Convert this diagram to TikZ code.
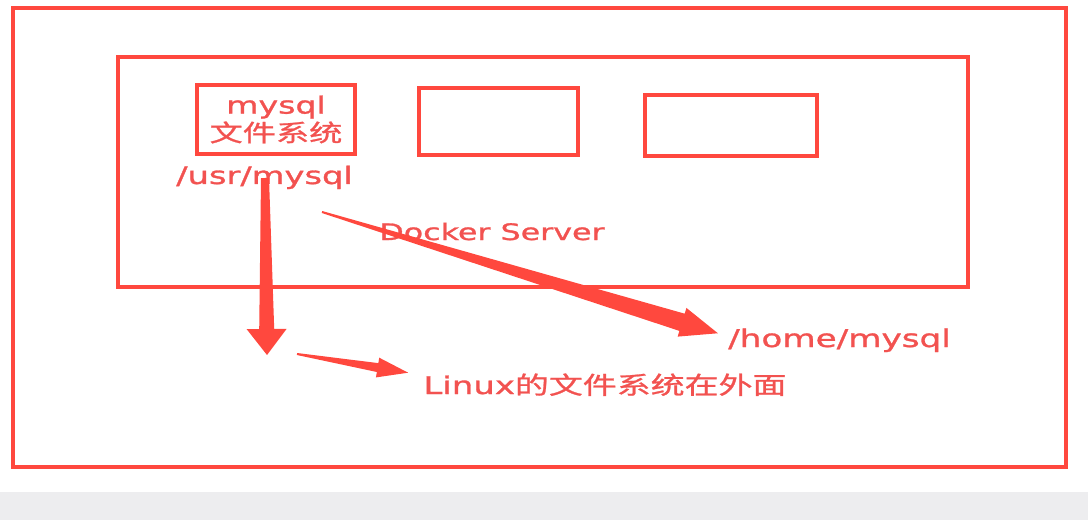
\documentclass[tikz,border=0pt]{standalone}
\usepackage{fontspec}
\setmainfont[FakeStretch=1.4, FakeBold=1.2]{DejaVu Sans}
\newfontfamily\cjk[FakeStretch=1.4, FakeBold=1]{Noto Sans CJK SC}
\usetikzlibrary{calc}

\definecolor{linered}{RGB}{255,72,62}
\definecolor{textred}{RGB}{242,82,80}
\definecolor{bargray}{RGB}{237,237,239}

% tapered arrow: #1 tail, #2 tip, #3 tail half width, #4 shaft half width, #5 head half width, #6 head length
\newcommand{\taperarrow}[6]{%
  \coordinate (hb) at ($(#2)!#6!(#1)$);
  \fill[linered] ($(#1)!#3!90:(#2)$) -- ($(hb)!#4!90:(#2)$) -- ($(hb)!#5!90:(#2)$) -- (#2)
    -- ($(hb)!#5!-90:(#2)$) -- ($(hb)!#4!-90:(#2)$) -- ($(#1)!#3!-90:(#2)$) -- cycle;
}

\begin{document}
\begin{tikzpicture}[x=0.02cm, y=-0.02cm,
        frame/.style={rectangle, draw=linered, line width=2.2pt, inner sep=0},
        container/.style={rectangle, draw=linered, line width=2pt, inner sep=0},
        label/.style={text=textred, inner sep=0, anchor=base}
    ]
        \useasboundingbox (0,0) rectangle (1088,520);
        \fill[bargray] (0,492) rectangle (1088,520);

        % host machine and docker server
        \node[frame, minimum width=21.06cm, minimum height=9.18cm] (host) at (539.5,237.5) {};
        \node[container, line width=1.9pt, minimum width=17cm, minimum height=4.6cm] (dockerserver) at (543,172) {};
        \node[label] (dockerlabel) at (492,240) {\fontsize{12.9pt}{15pt}\selectfont Docker Server};

        % containers
        \node[container, minimum width=3.16cm, minimum height=1.38cm, text=textred, align=center,
              font=\fontsize{13.5pt}{15.9pt}\selectfont] (mysqlbox) at (276,119.5) {mysql\\{\cjk 文件系统}};
        \node[container, minimum width=3.18cm, minimum height=1.34cm] (boxtwo) at (498.5,121.5) {};
        \node[container, minimum width=3.44cm, minimum height=1.22cm] (boxthree) at (731,125.5) {};

        % paths
        \node[label] (usrpath) at (264.5,184) {\fontsize{13.7pt}{16pt}\selectfont /usr/mysql};
        \node[label] (homepath) at (839.5,347) {\fontsize{13.9pt}{16pt}\selectfont /home/mysql};
        \node[label] (linuxfs) at (605,394) {\fontsize{13.8pt}{16pt}\selectfont Linux{\cjk 的文件系统在外面}};

        % arrows
        \coordinate (usrtail) at (265,178);
        \coordinate (usrtip) at (267,355);
        \coordinate (linuxtail) at (297,354);
        \coordinate (linuxtip) at ($(linuxfs.west)+(-15,-12)$);
        \coordinate (hometail) at (322,212);
        \coordinate (hometip) at ($(homepath.west)+(-10,-7)$);
        \taperarrow{usrtail}{usrtip}{0.08cm}{0.15cm}{0.4cm}{0.52cm}
        \taperarrow{linuxtail}{linuxtip}{0.02cm}{0.09cm}{0.2cm}{0.62cm}
        \taperarrow{hometail}{hometip}{0.02cm}{0.18cm}{0.3cm}{0.75cm}

    \end{tikzpicture}
\end{document}
